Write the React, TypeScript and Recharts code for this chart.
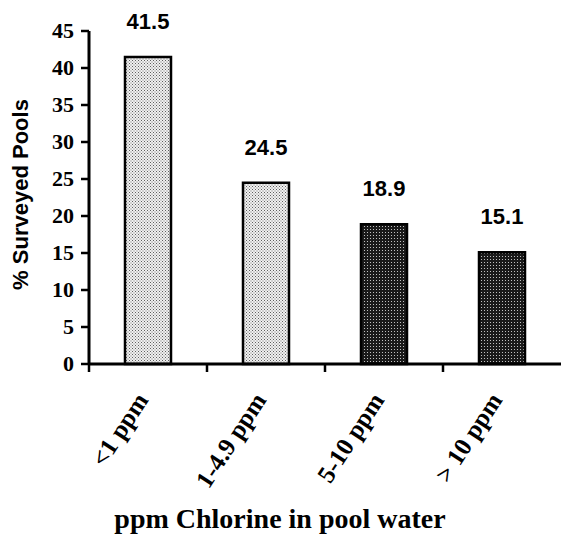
import React from "react";
import { BarChart, Bar, XAxis, YAxis, Cell, LabelList } from "recharts";

const categories = ["<1 ppm", "1-4.9 ppm", "5-10 ppm", "> 10 ppm"];
const percentPools = [41.5, 24.5, 18.9, 15.1];
const yTicks = [0, 5, 10, 15, 20, 25, 30, 35, 40, 45];
const barPatterns = ["lightDots", "lightDots", "darkDots", "darkDots"];

const data = categories.map((c, i) => ({ name: c, value: percentPools[i] }));

const SERIF = "'Liberation Serif', 'Times New Roman', serif";
const SANS = "'Liberation Sans', Arial, sans-serif";

const serifStyle: React.CSSProperties = { fontFamily: SERIF, fontWeight: 700 };
const sansStyle: React.CSSProperties = { fontFamily: SANS, fontWeight: 700 };

const XTick = (props: any) => {
  const { x, y, payload, width, visibleTicksCount } = props;
  const half =
    payload && typeof payload.offset === "number" && payload.offset > 0
      ? payload.offset
      : width / visibleTicksCount / 2;
  const lx = x - half;
  const ty = y + 36;
  return (
    <g>
      <line x1={lx} y1={y} x2={lx} y2={y + 8} stroke="#000" strokeWidth={2.5} />
      <text
        x={x + 1}
        y={ty}
        transform={`rotate(-57, ${x + 1}, ${ty})`}
        textAnchor="end"
        style={{ ...serifStyle, fontSize: 25 }}
        fill="#000"
      >
        {payload.value}
      </text>
    </g>
  );
};

const YTick = (props: any) => {
  const { x, y, payload } = props;
  return (
    <g>
      <text
        x={x}
        y={y + 7}
        textAnchor="end"
        style={{ ...serifStyle, fontSize: 22 }}
        fill="#000"
      >
        {String(payload.value)}
      </text>
    </g>
  );
};

export default function App() {
  return (
    <div style={{ position: "absolute", left: 0, top: 0, width: 561, height: 535, background: "#fff" }}>
      <svg width={0} height={0} style={{ position: "absolute" }}>
        <defs>
          <pattern id="lightDots" patternUnits="userSpaceOnUse" width={3} height={3}>
            <rect x={0} y={0} width={3} height={3} fill="#f0f0f0" />
            <rect x={0} y={0} width={1} height={1} fill="#5e5e5e" />
            <rect x={1.5} y={1.5} width={1} height={1} fill="#707070" />
          </pattern>
          <pattern id="darkDots" patternUnits="userSpaceOnUse" width={3} height={3}>
            <rect x={0} y={0} width={3} height={3} fill="#1a1a1a" />
            <rect x={1} y={1} width={1} height={1} fill="#c0c0c0" />
          </pattern>
        </defs>
      </svg>
      <BarChart
        width={561}
        height={535}
        data={data}
        margin={{ top: 31, right: 0, bottom: 0, left: 0 }}
        barCategoryGap={0}
      >
        <XAxis
          dataKey="name"
          type="category"
          height={171}
          axisLine={{ stroke: "#000", strokeWidth: 3 }}
          tickLine={false}
          tickSize={0}
          tickMargin={0}
          interval={0}
          tick={(p: any) => <XTick {...p} />}
          label={{
            content: (p: any) => {
              const vb = p.viewBox || {};
              return (
                <text
                  x={vb.x + vb.width / 2 - 45}
                  y={vb.y + 164}
                  textAnchor="middle"
                  style={{ ...serifStyle, fontSize: 28 }}
                  fill="#000"
                >
                  ppm Chlorine in pool water
                </text>
              );
            },
          }}
        />
        <YAxis
          type="number"
          width={89}
          domain={[0, 45]}
          ticks={yTicks}
          interval={0}
          axisLine={{ stroke: "#000", strokeWidth: 3 }}
          tickLine={{ stroke: "#000", strokeWidth: 2.5 }}
          tickSize={8}
          tickMargin={7}
          tick={(p: any) => <YTick {...p} />}
          label={{
            content: (p: any) => {
              const vb = p.viewBox || {};
              const cx = vb.x + 20;
              const cy = vb.y + vb.height / 2 - 3;
              return (
                <text
                  x={cx}
                  y={cy}
                  transform={`rotate(-90, ${cx}, ${cy})`}
                  textAnchor="middle"
                  dominantBaseline="central"
                  style={{ ...sansStyle, fontSize: 22 }}
                  fill="#000"
                >
                  % Surveyed Pools
                </text>
              );
            },
          }}
        />
        <Bar dataKey="value" barSize={46} stroke="#000" strokeWidth={2.5} isAnimationActive={false}>
          {data.map((d, i) => (
            <Cell key={d.name} fill={`url(#${barPatterns[i]})`} />
          ))}
          <LabelList
            dataKey="value"
            position="top"
            offset={28}
            style={{ ...sansStyle, fontSize: 22 }}
            fill="#000"
          />
        </Bar>
      </BarChart>
    </div>
  );
}
